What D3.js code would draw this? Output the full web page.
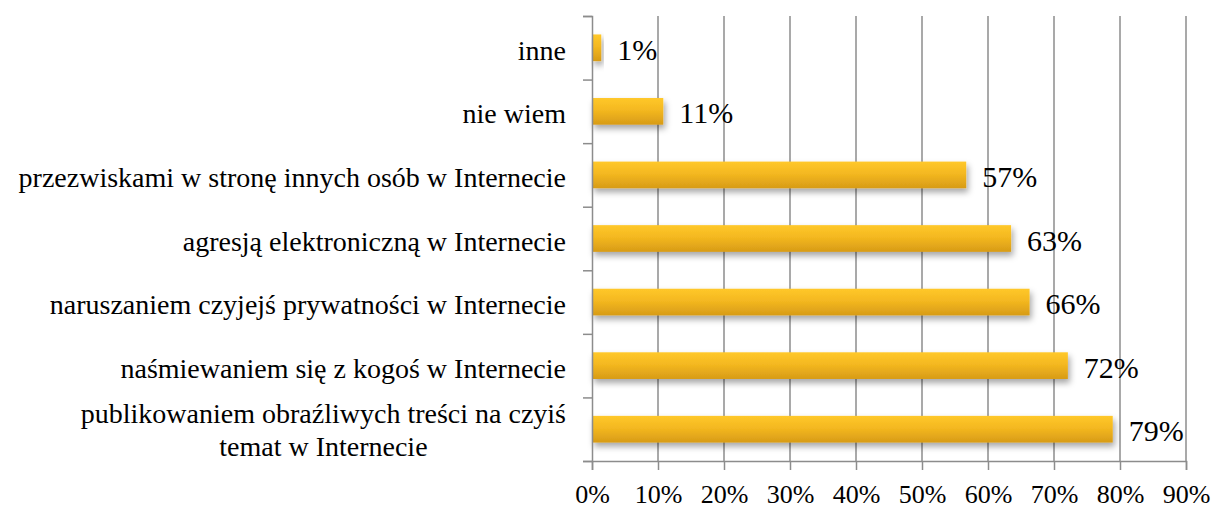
<!DOCTYPE html>
<html>
<head>
<meta charset="utf-8">
<script src="https://cdn.jsdelivr.net/npm/d3@7"></script>
<style>
  body { margin: 0; background: #fff; }
  svg text { font-family: "Liberation Serif", "Times New Roman", serif; fill: #000; }
</style>
</head>
<body>
<svg id="chart" width="1212" height="508"></svg>
<script>
// categories from top to bottom
var categories = [
  "inne",
  "nie wiem",
  "przezwiskami w stronę innych osób w Internecie",
  "agresją elektroniczną w Internecie",
  "naruszaniem czyjejś prywatności w Internecie",
  "naśmiewaniem się z kogoś w Internecie",
  "publikowaniem obraźliwych treści na czyiś|temat w Internecie"
];
var values = [1.4, 10.8, 56.7, 63.5, 66.3, 72.1, 78.9];
var valueLabels = ["1%", "11%", "57%", "63%", "66%", "72%", "79%"];
var xTicks = [0, 10, 20, 30, 40, 50, 60, 70, 80, 90];

var margin = {top: 16, left: 592, right: 26, bottom: 47},
    width = 1212 - margin.left - margin.right,
    height = 508 - margin.top - margin.bottom;

var svg = d3.select("#chart");

var defs = svg.append("defs");
var grad = defs.append("linearGradient")
    .attr("id", "barGrad")
    .attr("x1", 0).attr("y1", 0).attr("x2", 0).attr("y2", 1);
grad.append("stop").attr("offset", "0%").attr("stop-color", "#ffc82a");
grad.append("stop").attr("offset", "45%").attr("stop-color", "#f4b820");
grad.append("stop").attr("offset", "100%").attr("stop-color", "#d79b17");

var shadow = defs.append("filter")
    .attr("id", "shadow")
    .attr("x", "-10%").attr("y", "-30%").attr("width", "130%").attr("height", "190%");
shadow.append("feDropShadow")
    .attr("dx", 2).attr("dy", 4)
    .attr("stdDeviation", 3)
    .attr("flood-color", "#000")
    .attr("flood-opacity", 0.35);

var chart = svg.append("g")
    .attr("transform", "translate(" + margin.left + "," + margin.top + ")");

var x = d3.scaleLinear().domain([0, 90]).range([0, width]);
var y = d3.scaleBand()
    .domain(categories)
    .range([0, height])
    .paddingInner(0.58)
    .paddingOuter(0.29);
// category boundaries for the left axis ticks
var yEdges = d3.scaleLinear().domain([0, categories.length]).range([0, height]);

// vertical gridlines
chart.append("g")
  .selectAll("line")
  .data(xTicks.slice(1))
  .enter().append("line")
    .attr("x1", function (d) { return x(d); })
    .attr("x2", function (d) { return x(d); })
    .attr("y1", 0)
    .attr("y2", height)
    .attr("stroke", "#8c8c8c")
    .attr("stroke-width", 1.5);

// bars
chart.append("g")
  .selectAll("rect")
  .data(values)
  .enter().append("rect")
    .attr("x", 0)
    .attr("y", function (d, i) { return y(categories[i]); })
    .attr("width", function (d) { return x(d); })
    .attr("height", y.bandwidth())
    .attr("fill", "url(#barGrad)")
    .attr("filter", "url(#shadow)");

// value labels
chart.append("g")
  .selectAll("text")
  .data(values)
  .enter().append("text")
    .attr("x", function (d) { return x(d) + 16; })
    .attr("y", function (d, i) { return y(categories[i]) + y.bandwidth() / 2 + 12; })
    .style("font-size", "30px")
    .text(function (d, i) { return valueLabels[i]; });

// x axis
var xAxis = d3.axisBottom(x)
    .tickValues(xTicks)
    .tickSize(9)
    .tickFormat(function (d) { return d + "%"; });
var gx = chart.append("g")
    .attr("transform", "translate(0," + height + ")")
    .call(xAxis);
gx.select(".domain").attr("stroke", "#8c8c8c").attr("stroke-width", 1.5);
gx.selectAll(".tick line").attr("stroke", "#8c8c8c").attr("stroke-width", 1.5);
gx.selectAll(".tick text")
    .attr("y", 42)
    .attr("dy", 0)
    .style("font-size", "26px")
    .style("font-family", "Liberation Serif");

// y axis (ticks between categories)
var yAxis = d3.axisLeft(yEdges)
    .ticks(categories.length)
    .tickSize(9)
    .tickFormat("");
var gy = chart.append("g").call(yAxis);
gy.select(".domain").attr("stroke", "#8c8c8c").attr("stroke-width", 1.5);
gy.selectAll(".tick line").attr("stroke", "#8c8c8c").attr("stroke-width", 1.5);

// category labels
var labelRight = -26;
categories.forEach(function (c) {
  var lines = c.split("|");
  var cy = y(c) + y.bandwidth() / 2;
  var t = chart.append("text")
      .style("font-size", "28px");
  if (lines.length === 1) {
    t.attr("x", labelRight).attr("y", cy + 12)
      .attr("text-anchor", "end")
      .text(c);
  } else {
    var spans = lines.map(function (l, i) {
      return t.append("tspan")
        .attr("y", cy - 6 + i * 33)
        .text(l);
    });
    var maxW = d3.max(spans, function (s) { return s.node().getComputedTextLength(); });
    t.attr("text-anchor", "middle");
    spans.forEach(function (s) { s.attr("x", labelRight - maxW / 2); });
  }
});
</script>
</body>
</html>
